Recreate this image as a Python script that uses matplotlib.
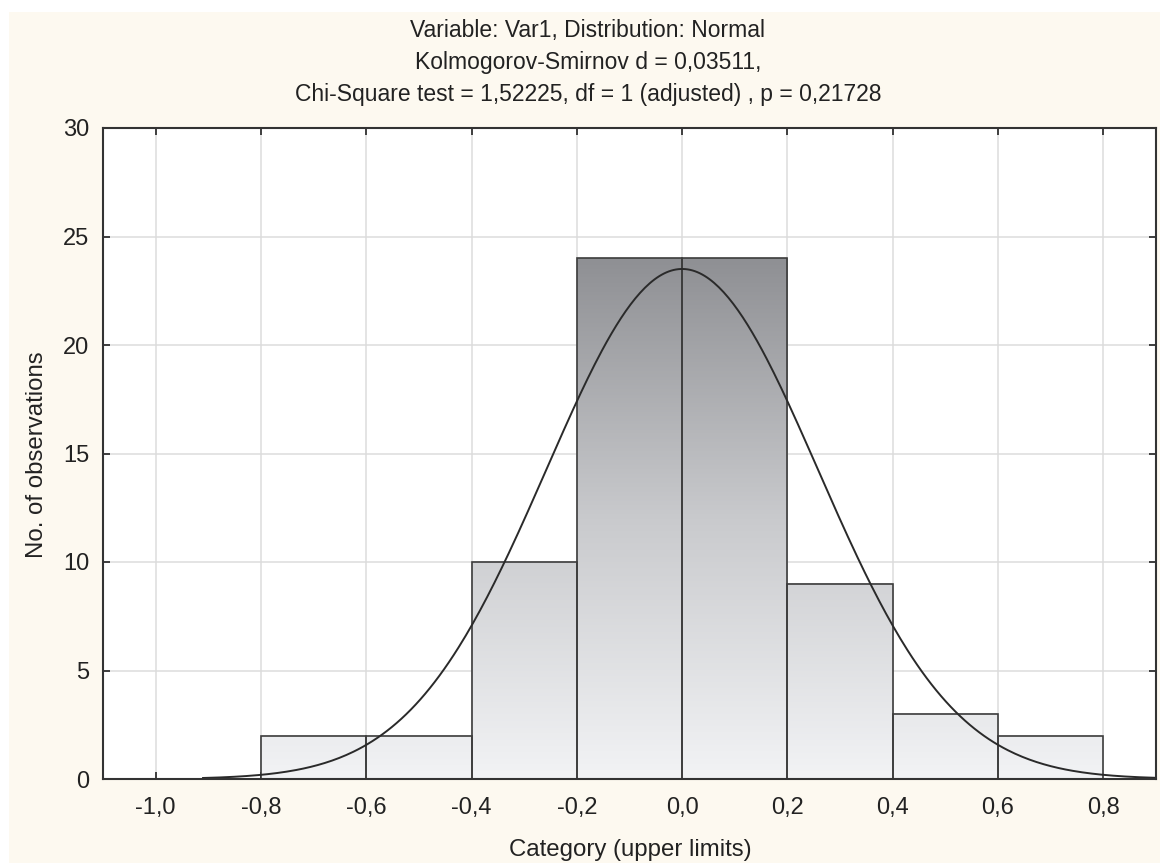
import numpy as np
import matplotlib
matplotlib.use("Agg")
import matplotlib.pyplot as plt
from matplotlib.colors import LinearSegmentedColormap
from matplotlib.patches import Rectangle

# ---- data ----
bin_edges = [-0.8, -0.6, -0.4, -0.2, 0.0, 0.2, 0.4, 0.6, 0.8]
counts = [2, 2, 10, 24, 24, 9, 3, 2]
fit_mean = 0.0
fit_sd = 0.258
curve_range = (-0.91, 0.9)
x_ticks = [-1.0, -0.8, -0.6, -0.4, -0.2, 0.0, 0.2, 0.4, 0.6, 0.8]
x_ticklabels = ["-1,0", "-0,8", "-0,6", "-0,4", "-0,2", "0,0", "0,2", "0,4", "0,6", "0,8"]
y_ticks = [0, 5, 10, 15, 20, 25, 30]
title_lines = ["Variable: Var1, Distribution: Normal",
               "Kolmogorov-Smirnov d = 0,03511,",
               "Chi-Square test = 1,52225, df = 1 (adjusted) , p = 0,21728"]
x_label = "Category (upper limits)"
y_label = "No. of observations"

plt.rcParams['font.family'] = ['Liberation Sans', 'DejaVu Sans']

W, H = 1160, 865
fig = plt.figure(figsize=(W / 100, H / 100), dpi=100)
fig.patch.set_facecolor('white')
# cream panel
fig.add_artist(Rectangle((9 / W, 0.002), 1 - 9 / W, 1 - 12 / H - 0.002,
                         transform=fig.transFigure, facecolor='#fdf9f0',
                         edgecolor='none', zorder=0))

ax = fig.add_axes([103 / W, 1 - 779 / H, (1156 - 103) / W, (779 - 128) / H])
ax.set_facecolor('white')
ax.set_xlim(-1.1, 0.9)
ax.set_ylim(0, 30)

ax.grid(True, color='#dcdcdc', linewidth=1.1, zorder=0)
ax.set_axisbelow(True)

cmap = LinearSegmentedColormap.from_list('g', ['#f2f3f5', '#c9cacd', '#8f9094'])
vmax = max(counts)
for i, c in enumerate(counts):
    x0, x1 = bin_edges[i], bin_edges[i + 1]
    grad = np.linspace(0, c, 200).reshape(-1, 1)
    ax.imshow(grad, extent=(x0, x1, 0, c), origin='lower', aspect='auto',
              cmap=cmap, vmin=0, vmax=vmax, zorder=2, interpolation='bilinear')
ax.bar(bin_edges[:-1], counts, width=np.diff(bin_edges), align='edge',
       fill=False, edgecolor='#3c3c3c', linewidth=1.2, zorder=3)
ax.set_xlim(-1.1, 0.9)
ax.set_ylim(0, 30)

n_total = sum(counts)
bw = bin_edges[1] - bin_edges[0]
xs = np.linspace(curve_range[0], curve_range[1], 400)
ys = n_total * bw / (fit_sd * np.sqrt(2 * np.pi)) * np.exp(-0.5 * ((xs - fit_mean) / fit_sd) ** 2)
ax.plot(xs, ys, color='#2a2a2a', linewidth=1.4, zorder=4, clip_on=False)

ax.set_xticks(x_ticks)
ax.set_xticklabels(x_ticklabels)
ax.set_yticks(y_ticks)
ax.tick_params(direction='in', length=5, width=1.2, top=True, right=True,
               labelsize=17, colors='#222222')
ax.tick_params(axis='x', pad=13)
ax.tick_params(axis='y', pad=10)
for s in ax.spines.values():
    s.set_linewidth(1.5)
    s.set_color('#333333')
    s.set_zorder(5)

fig.text(630 / W, 1 - 850 / H, x_label, ha='center', va='center', fontsize=17.3, color='#222222')
fig.text(37 / W, 1 - 455 / H, y_label, ha='center', va='center', rotation=90,
         fontsize=17.3, color='#222222')
for ty, t in zip([30, 62, 94], title_lines):
    fig.text(588 / W, 1 - ty / H, t, ha='center', va='center', fontsize=16.5, color='#222222')

fig.savefig('out.png', dpi=100, facecolor=fig.get_facecolor())
